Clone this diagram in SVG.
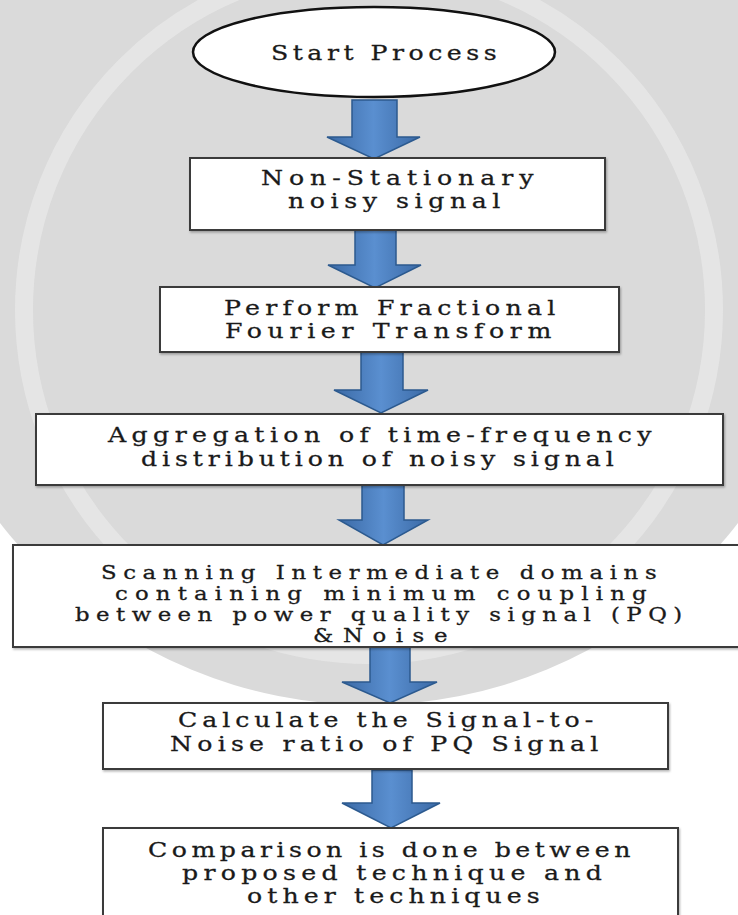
<svg xmlns="http://www.w3.org/2000/svg" width="738" height="915" viewBox="0 0 738 915">
<style>
.bg{fill:#ffffff}
.wm{fill:#dadada}
.ring{fill:none;stroke:#ececec;stroke-width:18;opacity:0.6}
.box{fill:#ffffff;stroke:#3a3a3a;stroke-width:2}
.oval{fill:#ffffff;stroke:#111111;stroke-width:2.5}
.t{font-family:"DejaVu Serif","Liberation Serif",serif;font-size:21px;fill:#1a1a1a;stroke:#1a1a1a;stroke-width:0.3}
.s{font-size:19px}
.arrow{fill:url(#blue);stroke:#2c5a8f;stroke-width:1.5;stroke-linejoin:miter}
</style>
<defs>
<linearGradient id="blue" x1="0" y1="0" x2="1" y2="0">
<stop offset="0" stop-color="#3b6aa6"/>
<stop offset="0.5" stop-color="#5a8fd0"/>
<stop offset="1" stop-color="#3b6aa6"/>
</linearGradient>
<filter id="sh" x="-5%" y="-5%" width="110%" height="120%">
<feDropShadow dx="1" dy="1.5" stdDeviation="1" flood-color="#000" flood-opacity="0.3"/>
</filter>
</defs>
<rect class="bg" x="0" y="0" width="738" height="915"/>
<circle class="wm" cx="369" cy="240" r="465"/>
<circle class="ring" cx="369" cy="310" r="345"/>

<g id="connectors">
<polygon class="arrow" points="352,100 397,100 397,137 420,137 374,159 327,137 352,137"/>
<polygon class="arrow" points="355,230 396,230 396,265 421,265 375,288 328,265 355,265"/>
<polygon class="arrow" points="361,352 403,352 403,390 428,390 381,413 334,390 361,390"/>
<polygon class="arrow" points="362,485 404,485 404,520 428,520 383,545 339,520 362,520"/>
<polygon class="arrow" points="370,647 410,647 410,682 437,682 390,703 342,682 370,682"/>
<polygon class="arrow" points="372,770 412,770 412,803 440,803 391,828 342,803 372,803"/>
</g>

<g id="start">
<ellipse class="oval" cx="374" cy="52" rx="181" ry="45"/>
<text class="t" transform="translate(271 60) scale(1.2 1)" textLength="188" lengthAdjust="spacing">Start Process</text>
</g>

<g id="n1">
<rect class="box" x="190" y="158" width="415" height="72" filter="url(#sh)"/>
<text class="t" transform="translate(261 185) scale(1.2 1)" textLength="227" lengthAdjust="spacing">Non-Stationary</text>
<text class="t" transform="translate(288 208) scale(1.2 1)" textLength="177" lengthAdjust="spacing">noisy signal</text>
</g>

<g id="n2">
<rect class="box" x="160" y="287" width="459" height="65" filter="url(#sh)"/>
<text class="t" transform="translate(224 315) scale(1.2 1)" textLength="276" lengthAdjust="spacing">Perform Fractional</text>
<text class="t" transform="translate(225 338) scale(1.2 1)" textLength="272" lengthAdjust="spacing">Fourier Transform</text>
</g>

<g id="n3">
<rect class="box" x="36" y="414" width="687" height="71" filter="url(#sh)"/>
<text class="t" transform="translate(108 442) scale(1.2 1)" textLength="453" lengthAdjust="spacing">Aggregation of time-frequency</text>
<text class="t" transform="translate(141 466) scale(1.2 1)" textLength="394" lengthAdjust="spacing">distribution of noisy signal</text>
</g>

<g id="n4">
<rect class="box" x="13" y="545" width="735" height="102" filter="url(#sh)"/>
<text class="t s" transform="translate(101 579) scale(1.2 1)" textLength="463" lengthAdjust="spacing">Scanning Intermediate domains</text>
<text class="t s" transform="translate(115 600) scale(1.2 1)" textLength="443" lengthAdjust="spacing">containing minimum coupling</text>
<text class="t s" transform="translate(75 621) scale(1.2 1)" textLength="506" lengthAdjust="spacing">between power quality signal (PQ)</text>
<text class="t s" transform="translate(313 642) scale(1.2 1)" textLength="112" lengthAdjust="spacing">&amp;Noise</text>
</g>

<g id="n5">
<rect class="box" x="103" y="703" width="565" height="66" filter="url(#sh)"/>
<text class="t" transform="translate(178 727) scale(1.2 1)" textLength="346" lengthAdjust="spacing">Calculate the Signal-to-</text>
<text class="t" transform="translate(170 751) scale(1.2 1)" textLength="357" lengthAdjust="spacing">Noise ratio of PQ Signal</text>
</g>

<g id="n6">
<rect class="box" x="103" y="828" width="575" height="100" filter="url(#sh)"/>
<text class="t" transform="translate(148 857) scale(1.2 1)" textLength="402" lengthAdjust="spacing">Comparison is done between</text>
<text class="t" transform="translate(182 880) scale(1.2 1)" textLength="350" lengthAdjust="spacing">proposed technique and</text>
<text class="t" transform="translate(247 903) scale(1.2 1)" textLength="244" lengthAdjust="spacing">other techniques</text>
</g>
</svg>
